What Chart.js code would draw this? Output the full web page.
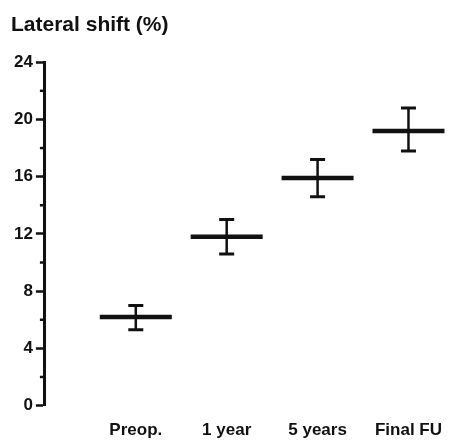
<!DOCTYPE html>
<html>
<head>
<meta charset="utf-8">
<script src="https://cdn.jsdelivr.net/npm/chart.js@4"></script>
<style>
  body { margin: 0; background: #fff; }
  #wrap { width: 457px; height: 442px; }
</style>
</head>
<body>
<div id="wrap"><canvas id="chart"></canvas></div>
<script>
const categories = ['Preop.', '1 year', '5 years', 'Final FU'];
const means = [6.2, 11.8, 15.9, 19.2];
const upper = [7.0, 13.0, 17.2, 20.8];
const lower = [5.3, 10.6, 14.6, 17.8];
const yTicks = [0, 4, 8, 12, 16, 20, 24];
const yMinorTicks = [2, 6, 10, 14, 18, 22];

const ink = '#111';
const fontFamily = '"Liberation Sans", Arial, sans-serif';

// x positions 1..n on a linear scale
const meanPts = means.map((v, i) => ({ x: i + 1, y: v }));
const capPts = [];
const whiskerPts = [];
for (let i = 0; i < categories.length; i++) {
    capPts.push({ x: i + 1, y: upper[i] });
    capPts.push({ x: i + 1, y: lower[i] });
    whiskerPts.push({ x: i + 1, y: lower[i] });
    whiskerPts.push({ x: i + 1, y: upper[i] });
    whiskerPts.push({ x: i + 1, y: null });
}

// short unlabelled ticks between the labelled ones
const minorTicks = {
    id: 'minorTicks',
    afterDraw(chart) {
        const y = chart.scales.y;
        const ctx = chart.ctx;
        ctx.save();
        ctx.strokeStyle = ink;
        ctx.lineWidth = 2.5;
        for (const v of yMinorTicks) {
            const py = y.getPixelForValue(v);
            ctx.beginPath();
            ctx.moveTo(y.right - 5, py);
            ctx.lineTo(y.right, py);
            ctx.stroke();
        }
        ctx.restore();
    }
};

new Chart(document.getElementById('chart'), {
    type: 'scatter',
    data: {
        datasets: [
            {
                data: whiskerPts,
                showLine: true,
                spanGaps: false,
                borderColor: ink,
                borderWidth: 2.5,
                pointRadius: 0
            },
            {
                data: capPts,
                pointStyle: 'line',
                pointRadius: 7.5,
                pointBorderWidth: 3,
                borderColor: ink,
                backgroundColor: ink
            },
            {
                data: meanPts,
                pointStyle: 'line',
                pointRadius: 36,
                pointBorderWidth: 4.5,
                borderColor: ink,
                backgroundColor: ink
            }
        ]
    },
    options: {
        responsive: true,
        maintainAspectRatio: false,
        animation: false,
        layout: { autoPadding: false, padding: { left: 11, right: 0, top: 0, bottom: -14 } },
        plugins: {
            legend: { display: false },
            tooltip: { enabled: false },
            title: {
                display: true,
                text: 'Lateral shift (%)',
                align: 'start',
                color: ink,
                font: { family: fontFamily, size: 21, weight: 'bold' },
                padding: { top: 13, bottom: 24 }
            }
        },
        scales: {
            x: {
                type: 'linear',
                min: 0,
                max: 4.485,
                afterBuildTicks: (axis) => {
                    axis.ticks = categories.map((c, i) => ({ value: i + 1 }));
                },
                ticks: {
                    color: ink,
                    font: { family: fontFamily, size: 17, weight: 'bold' },
                    padding: 15,
                    maxRotation: 0,
                    autoSkip: false,
                    callback: (v) => categories[v - 1]
                },
                grid: { display: false, drawTicks: false },
                border: { display: false }
            },
            y: {
                min: 0,
                max: 24,
                afterBuildTicks: (axis) => {
                    axis.ticks = yTicks.map((v) => ({ value: v }));
                },
                ticks: {
                    color: ink,
                    font: { family: fontFamily, size: 17, weight: 'bold' },
                    padding: 3,
                    autoSkip: false
                },
                grid: {
                    drawOnChartArea: false,
                    drawTicks: true,
                    tickLength: 9,
                    tickWidth: 2.5,
                    color: ink
                },
                border: { display: true, color: ink, width: 3 }
            }
        }
    },
    plugins: [minorTicks]
});
</script>
</body>
</html>
